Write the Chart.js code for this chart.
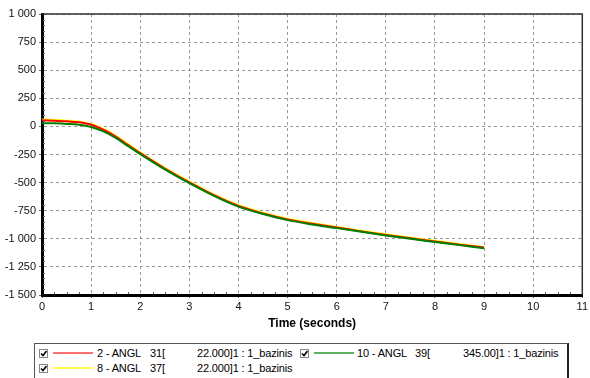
<!DOCTYPE html>
<html>
<head>
<meta charset="utf-8">
<script src="https://cdn.jsdelivr.net/npm/chart.js@4.4.1/dist/chart.umd.min.js"></script>
<style>
  body { margin: 0; background: #fff; font-family: Arial, "Liberation Sans", sans-serif; }
  #wrap { position: relative; width: 590px; height: 378px; overflow: hidden; }
  #box { position: absolute; left: 0; top: 0; width: 590px; height: 335px; }
  #legend { position: absolute; left: 34px; top: 343px; width: 535px; height: 50px;
            border: 1px solid #555; border-right: 2px solid #222; box-sizing: border-box; }
  .it { position: absolute; font-size: 11px; color: #000; white-space: nowrap; line-height: 13px; letter-spacing: -0.15px; }
  .cb { position: absolute; width: 9px; height: 9px; border: 1px solid #888; background: #fff; box-sizing: border-box; }
  .ln { position: absolute; height: 2px; }
</style>
</head>
<body>
<div id="wrap">
  <div id="box"><canvas id="chart1"></canvas></div>
  <div id="legend"></div>
</div>
<script>
// time in seconds
const times = [0, 0.25, 0.5, 0.75, 1, 1.25, 1.5, 1.75, 2, 2.5, 3, 3.5, 4, 4.5, 5, 5.5, 6, 6.5, 7, 7.5, 8, 8.5, 9];
const angl2 = [55, 50, 45, 36, 15, -30, -90, -165, -238, -375, -498, -612, -708, -775, -828, -866, -900, -934, -966, -996, -1024, -1052, -1078];
const angl8 = [60, 55, 49, 40, 19, -25, -85, -160, -234, -370, -493, -607, -703, -770, -823, -861, -896, -930, -962, -992, -1020, -1048, -1074];
const angl10 = [30, 27, 22, 14, -6, -45, -103, -175, -246, -382, -505, -618, -714, -780, -834, -872, -905, -938, -970, -1000, -1028, -1056, -1084];

const seriesNames = ['2 - ANGL', '8 - ANGL', '10 - ANGL'];
const seriesIds = ['31[', '37[', '39['];
const seriesTails = ['22.000]1 : 1_bazinis', '22.000]1 : 1_bazinis', '345.00]1 : 1_bazinis'];

const xTitle = 'Time (seconds)';

function pts(ys) {
  return times.map((t, i) => ({ x: t, y: ys[i] }));
}

function fmt(v) {
  const s = String(Math.abs(v)).replace(/\B(?=(\d{3})+(?!\d))/g, ' ');
  return (v < 0 ? '-' : '') + s;
}

// top/right frame + minor ticks
const frame = {
  id: 'frame',
  afterDraw(chart) {
    const c = chart.ctx, a = chart.chartArea;
    const xs = chart.scales.x, ys = chart.scales.y;
    c.save();
    c.strokeStyle = '#333';
    c.lineWidth = 1.5;
    c.beginPath();
    c.moveTo(a.left, a.top);
    c.lineTo(a.right, a.top);
    c.lineTo(a.right, a.bottom);
    c.stroke();
    c.strokeStyle = '#666';
    c.lineWidth = 1;
    c.beginPath();
    for (let t = 0; t <= 11; t += 0.25) {
      if (t % 1 === 0) continue;
      const px = Math.round(xs.getPixelForValue(t)) + 0.5;
      c.moveTo(px, a.bottom - 3);
      c.lineTo(px, a.bottom - 1);
    }
    for (let v = -1500; v <= 1000; v += 50) {
      if (v % 250 === 0) continue;
      const py = Math.round(ys.getPixelForValue(v)) + 0.5;
      c.moveTo(a.left + 1, py);
      c.lineTo(a.left + 3, py);
    }
    c.stroke();
    c.restore();
  }
};

const ctx = document.getElementById('chart1');
new Chart(ctx, {
  type: 'line',
  data: {
    datasets: [{
      label: seriesNames[0],
      data: pts(angl2),
      borderColor: '#ff0000',
      borderWidth: 2,
      order: 1
    }, {
      label: seriesNames[1],
      data: pts(angl8),
      borderColor: '#ffff00',
      borderWidth: 2.5,
      order: 2
    }, {
      label: seriesNames[2],
      data: pts(angl10),
      borderColor: '#008000',
      borderWidth: 2,
      order: 0
    }]
  },
  options: {
    responsive: true,
    maintainAspectRatio: false,
    animation: false,
    elements: { point: { radius: 0 }, line: { cubicInterpolationMode: 'monotone' } },
    layout: { padding: { top: 14, right: 6, bottom: 0, left: 0 } },
    plugins: { legend: { display: false }, tooltip: { enabled: false } },
    scales: {
      x: {
        type: 'linear',
        min: 0,
        max: 11,
        afterFit(s) { s.height = 40; },
        ticks: { stepSize: 1, maxRotation: 0, padding: 2, color: '#111', font: { family: 'Arial', size: 11 } },
        grid: { color: '#999', tickLength: 3, tickColor: '#666' },
        border: { color: '#000', width: 3, dash: [3, 3] },
        title: { display: true, text: xTitle, color: '#000', font: { family: 'Arial', size: 12, weight: 'bold' }, padding: { top: 2, bottom: 4 } }
      },
      y: {
        min: -1500,
        max: 1000,
        afterFit(s) { s.width = 42; },
        ticks: { stepSize: 250, padding: 3, color: '#111', font: { family: 'Arial', size: 11 }, callback: v => fmt(v) },
        grid: { color: '#999', tickLength: 3, tickColor: '#666' },
        border: { color: '#000', width: 3, dash: [3, 3] }
      }
    }
  },
  plugins: [frame]
});

// legend, built from the series arrays
const legendColors = ['#ff7070', '#ffff50', '#60b060'];
const slots = [
  { s: 0, row: 0, x0: 0 },
  { s: 2, row: 0, x0: 261 },
  { s: 1, row: 1, x0: 0 }
];
const lg = document.getElementById('legend');
slots.forEach(o => {
  const top = o.row === 0 ? 5 : 20;
  const ox = o.x0;
  const cb = document.createElement('div');
  cb.className = 'cb';
  cb.style.left = (4 + ox) + 'px';
  cb.style.top = top + 'px';
  cb.innerHTML = '<svg width="7" height="7" style="position:absolute;left:0;top:0"><path d="M1 3.5 L3 5.5 L6.5 1" stroke="#000" stroke-width="1.6" fill="none"/></svg>';
  lg.appendChild(cb);
  const ln = document.createElement('div');
  ln.className = 'ln';
  ln.style.left = (18 + ox) + 'px';
  ln.style.width = '40px';
  ln.style.top = (top + 3) + 'px';
  ln.style.background = legendColors[o.s];
  lg.appendChild(ln);
  const parts = o.s === 2
    ? [[seriesNames[o.s], 61], [seriesIds[o.s], 119], [seriesTails[o.s], 167]]
    : [[seriesNames[o.s], 62], [seriesIds[o.s], 115], [seriesTails[o.s], 162]];
  parts.forEach(p => {
    const sp = document.createElement('span');
    sp.className = 'it';
    sp.textContent = p[0];
    sp.style.left = (p[1] + ox) + 'px';
    sp.style.top = (top - 2) + 'px';
    lg.appendChild(sp);
  });
});
</script>
</body>
</html>
